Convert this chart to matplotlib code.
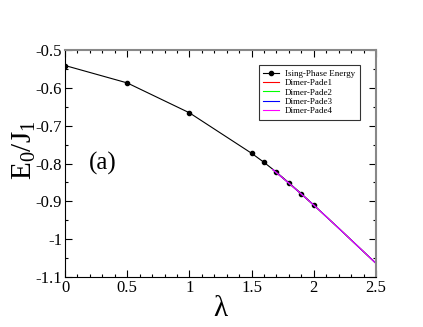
import numpy as np
import matplotlib.pyplot as plt
from matplotlib.ticker import MultipleLocator, FormatStrFormatter

plt.rcParams['font.family'] = ['Liberation Serif', 'DejaVu Serif']
plt.rcParams['mathtext.fontset'] = 'custom'
plt.rcParams['mathtext.rm'] = 'Liberation Serif'
plt.rcParams['mathtext.it'] = 'Liberation Serif'
plt.rcParams['axes.unicode_minus'] = False

# Ising phase energy (points)
lam_ising = [0.0, 0.5, 1.0, 1.5, 1.6, 1.7, 1.8, 1.9, 2.0]
e_ising = [-0.541, -0.587, -0.666, -0.773, -0.797, -0.823, -0.851, -0.880, -0.910]

# Dimer-phase Pade approximants (lines overlap)
lam_dimer = [1.67, 1.8, 2.0, 2.2, 2.5]
e_pade1 = [-0.816, -0.852, -0.910, -0.971, -1.064]
e_pade2 = [-0.816, -0.852, -0.910, -0.971, -1.064]
e_pade3 = [-0.816, -0.852, -0.910, -0.971, -1.064]
e_pade4 = [-0.816, -0.852, -0.910, -0.971, -1.064]

fig = plt.figure(figsize=(4.23, 3.27), dpi=100)
ax = fig.add_axes([65 / 423, 1 - 277 / 327, 311 / 423, 227 / 327])

ax.plot(lam_ising, e_ising, color='black', lw=0.8, marker='o', ms=3,
        label='Ising-Phase Energy')
ax.plot(lam_dimer, e_pade1, color='red', lw=0.8, label='Dimer-Pade1')
ax.plot(lam_dimer, e_pade2, color='#00ff00', lw=0.8, label='Dimer-Pade2')
ax.plot(lam_dimer, e_pade3, color='blue', lw=0.8, label='Dimer-Pade3')
ax.plot(lam_dimer, e_pade4, color='magenta', lw=0.8, label='Dimer-Pade4')

ax.set_xlim(0, 2.5)
ax.set_ylim(-1.1, -0.5)
ax.xaxis.set_major_locator(MultipleLocator(0.5))
ax.xaxis.set_minor_locator(MultipleLocator(0.1))
ax.yaxis.set_major_locator(MultipleLocator(0.1))
ax.yaxis.set_minor_locator(MultipleLocator(0.05))
ax.xaxis.set_major_formatter(FormatStrFormatter('%g'))
ax.yaxis.set_major_formatter(FormatStrFormatter('%g'))
ax.tick_params(which='both', direction='in', top=True, right=True, labelsize=12)
ax.tick_params(which='major', length=5, width=0.8, pad=2)
ax.tick_params(which='minor', length=2.5, width=0.8)
for s in ['top', 'right']:
    ax.spines[s].set_color('#888888')
    ax.spines[s].set_linewidth(1.5)

ax.set_xlabel('λ', fontsize=21, labelpad=0)
ax.set_ylabel(r'E$_0$/J$_1$', fontsize=21)
ax.yaxis.set_label_coords(-0.087, 0.56)
ax.text(0.077, 0.5, '(a)', transform=ax.transAxes, fontsize=18, va='center')

leg = ax.legend(loc='upper right', bbox_to_anchor=(0.947, 0.934), fontsize=6.5,
                frameon=True, fancybox=False, edgecolor='black',
                handlelength=1.8, handletextpad=0.6, borderpad=0.5,
                labelspacing=0.12, borderaxespad=0)
leg.get_frame().set_linewidth(0.8)

fig.savefig('out.png', dpi=100)
